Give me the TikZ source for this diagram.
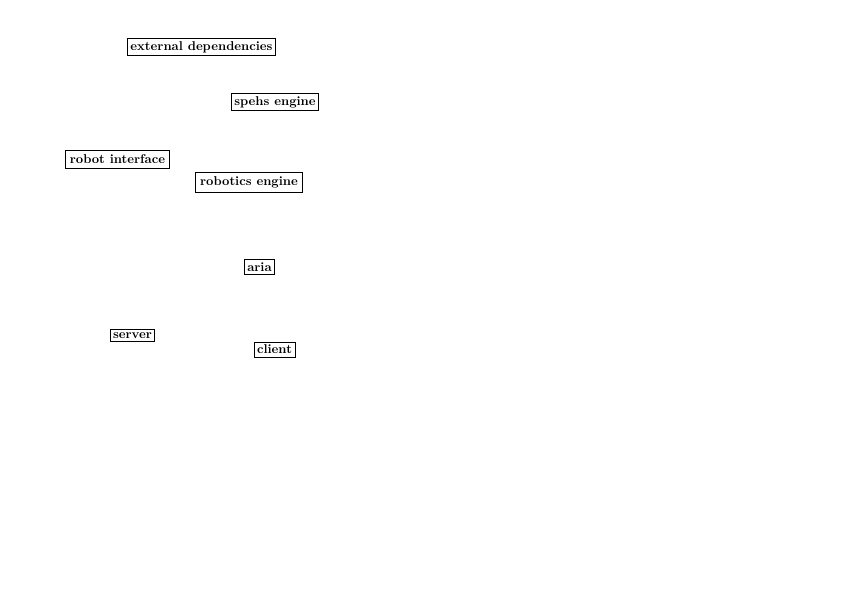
\documentclass[tikz,border=0pt]{standalone}
\begin{document}
\begin{tikzpicture}[x=0.75pt,y=-0.75pt,
  comp/.style={draw,line width=0.6pt,inner sep=2.2pt,font=\bfseries\fontsize{9.6}{11}\selectfont}]
\useasboundingbox (0,0) rectangle (865,606);
\node[comp] (ext) at (201.5,47) {external dependencies};
\node[comp] (spehs) at (275,102) {spehs engine};
\node[comp,inner sep=3.2pt] (robif) at (117.5,159.5) {robot interface};
\node[comp,inner sep=3.2pt] (robeng) at (249,182.5) {robotics engine};
\node[comp] (aria) at (259.5,267) {aria};
\node[comp] (server) at (132.5,335.5) {server};
\node[comp] (client) at (274.5,349.5) {client};
\end{tikzpicture}
\end{document}
